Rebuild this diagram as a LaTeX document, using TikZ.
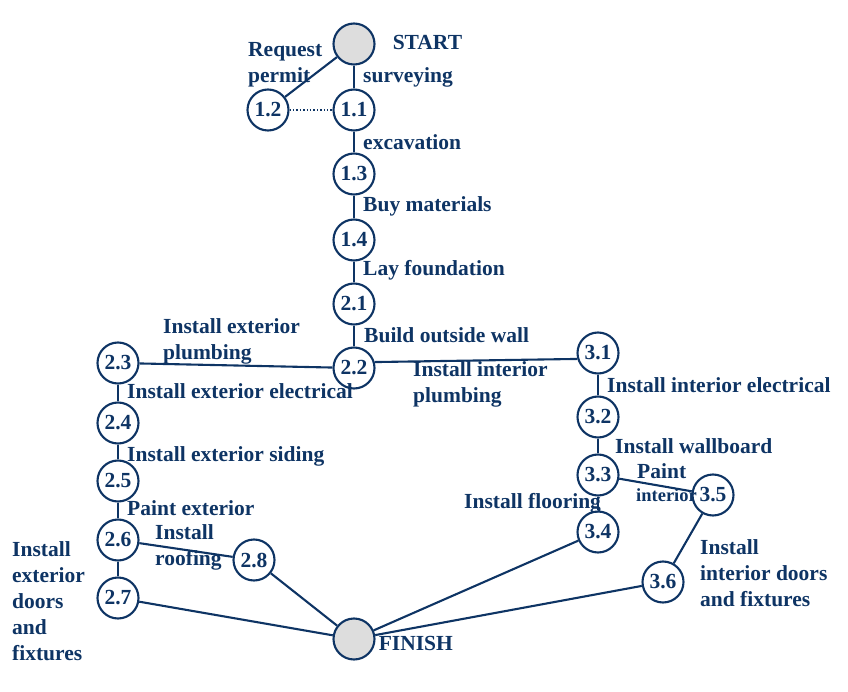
\documentclass[tikz,border=0pt]{standalone}
\usepackage{fontspec}
\setmainfont{Liberation Serif}
\usetikzlibrary{positioning}
\definecolor{navy}{RGB}{14,52,100}
\definecolor{startgray}{RGB}{221,221,221}
\tikzset{
  stage/.style={
    circle,
    draw=navy,
    line width=2.1pt,
    minimum size=41pt,
    inner sep=0pt,
    fill=white,
    text=navy,
    font=\fontsize{21.5}{26}\selectfont\bfseries,
  },
  terminal/.style={
    stage,
    fill=startgray
  },
  link/.style={
    draw=navy,
    line width=2.1pt
  },
  tag/.style={
    anchor=west,
    align=left,
    inner sep=0pt,
    text=navy,
    font=\fontsize{21.5}{26}\selectfont\bfseries,
  }
}
\begin{document}
\begin{tikzpicture}[x=1pt,y=-1pt]
\useasboundingbox (0,0) rectangle (848,692);

% --- Etapes ---
\node[terminal] (start) at (354,44) {};
\node[stage] (n11) at (354,110) {1.1};
\node[stage] (n12) at (268,110) {1.2};
\node[stage] (n13) at (354,174) {1.3};
\node[stage] (n14) at (354,240) {1.4};
\node[stage] (n21) at (354,304) {2.1};
\node[stage] (n22) at (354,368) {2.2};
\node[stage] (n23) at (118,363) {2.3};
\node[stage] (n24) at (118,423) {2.4};
\node[stage] (n25) at (118,481) {2.5};
\node[stage] (n26) at (118,540) {2.6};
\node[stage] (n27) at (118,598) {2.7};
\node[stage] (n28) at (254,560) {2.8};
\node[stage] (n31) at (598,353) {3.1};
\node[stage] (n32) at (598,417) {3.2};
\node[stage] (n33) at (598,475) {3.3};
\node[stage] (n34) at (598,532) {3.4};
\node[stage] (n35) at (713,495) {3.5};
\node[stage] (n36) at (663,582) {3.6};
\node[terminal] (finish) at (354,639) {};

% --- Liens ---
\draw[link] (start) -- (n11);
\draw[link] (start) -- (n12);
\draw[navy, line width=1.4pt, dotted] (n12) -- (n11);
\draw[link] (n11) -- (n13);
\draw[link] (n13) -- (n14);
\draw[link] (n14) -- (n21);
\draw[link] (n21) -- (n22);
\draw[link] (n23) -- (n22);
\draw[link] (n22.16) -- (n31.196);
\draw[link] (n23) -- (n24);
\draw[link] (n24) -- (n25);
\draw[link] (n25) -- (n26);
\draw[link] (n26) -- (n27);
\draw[link] (n26) -- (n28);
\draw[link] (n28) -- (finish);
\draw[link] (n27) -- (finish);
\draw[link] (n31) -- (n32);
\draw[link] (n32) -- (n33);
\draw[link] (n33) -- (n34);
\draw[link] (n33) -- (n35);
\draw[link] (n35) -- (n36);
\draw[link] (n36) -- (finish);
\draw[link] (n34) -- (finish);

% --- Textes ---
\node[tag, right=17pt of start, yshift=2pt] (startlbl) {START};
\node[tag, right=3pt of finish, yshift=-4pt] (finishlbl) {FINISH};
\node[tag] (permit) at (248,65) {Request\\permit};
\node[tag] (survey) at (363,77) {surveying};
\node[tag] (excav) at (363,142) {excavation};
\node[tag] (buy) at (363,206) {Buy materials};
\node[tag] (found) at (363,270) {Lay foundation};
\node[tag] (wall) at (364,335) {Build outside wall};
\node[tag] (extplumb) at (163,341) {Install exterior\\plumbing};
\node[tag] (intplumb) at (413,384) {Install interior\\plumbing};
\node[tag] (extelec) at (127,391) {Install exterior electrical};
\node[tag] (intelec) at (607,385) {Install interior electrical};
\node[tag] (siding) at (127,456) {Install exterior siding};
\node[tag] (wallb) at (615,446) {Install wallboard};
\node[tag] (paintint) at (637,471) {Paint};
\node[tag, font=\fontsize{18.5}{22}\selectfont\bfseries] (paintint2) at (636,495) {interior};
\node[tag] (floor) at (464,503) {Install flooring};
\node[tag] (paintext) at (127,508) {Paint exterior};
\node[tag] (roof) at (155,547) {Install\\roofing};
\node[tag] (extdoors) at (12,601) {Install\\exterior\\doors\\and\\fixtures};
\node[tag] (intdoors) at (700,573) {Install\\interior doors\\and fixtures};

\end{tikzpicture}
\end{document}
